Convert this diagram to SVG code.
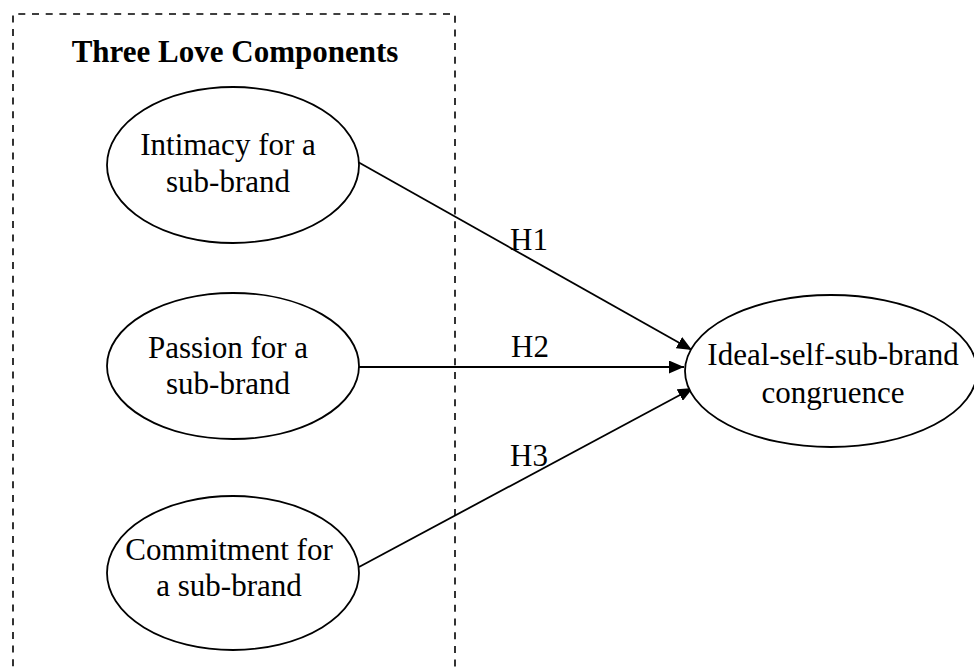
<svg xmlns="http://www.w3.org/2000/svg" width="974" height="670" viewBox="0 0 974 670">
  <style>
    .node { fill: #fff; stroke: #000; stroke-width: 1.8; }
    .lbl { font-family: "Liberation Serif", "Times New Roman", serif; font-size: 31px; fill: #000; text-anchor: middle; }
    .title { font-weight: bold; }
    .edge { stroke: #000; stroke-width: 1.8; fill: none; marker-end: url(#arrow); }
    .group-box { fill: none; stroke: #000; stroke-width: 1.6; stroke-dasharray: 7 6.7; }
  </style>
  <defs>
    <marker id="arrow" markerUnits="userSpaceOnUse" markerWidth="15" markerHeight="13" viewBox="0 0 15 13" refX="15" refY="6.5" orient="auto">
      <path d="M0,0 L15,6.5 L0,13 Z" fill="#000"/>
    </marker>
  </defs>

  <rect width="974" height="670" fill="#fff"/>

  <!-- dashed grouping frame (open at the bottom) -->
  <g id="love-components">
    <path class="group-box" d="M13,680 L13,14 L455,14 L455,680"/>
    <text class="lbl title" x="235" y="62">Three Love Components</text>
  </g>

  <g id="connectors">
    <line class="edge" x1="358" y1="162" x2="692" y2="350"/>
    <line class="edge" x1="359" y1="367" x2="684" y2="367"/>
    <line class="edge" x1="359" y1="567" x2="693" y2="388"/>
    <text class="lbl" x="529" y="250">H1</text>
    <text class="lbl" x="530" y="357">H2</text>
    <text class="lbl" x="529" y="466">H3</text>
  </g>

  <g id="intimacy">
    <ellipse class="node" cx="233" cy="165" rx="126" ry="78"/>
    <text class="lbl" x="228" y="155">Intimacy for a</text>
    <text class="lbl" x="228" y="192">sub-brand</text>
  </g>

  <g id="passion">
    <ellipse class="node" cx="233" cy="366" rx="126" ry="73"/>
    <text class="lbl" x="228" y="358">Passion for a</text>
    <text class="lbl" x="228" y="394">sub-brand</text>
  </g>

  <g id="commitment">
    <ellipse class="node" cx="233" cy="573" rx="126" ry="77"/>
    <text class="lbl" x="229" y="560">Commitment for</text>
    <text class="lbl" x="229" y="596">a sub-brand</text>
  </g>

  <g id="congruence">
    <ellipse class="node" cx="831" cy="371" rx="146" ry="76"/>
    <text class="lbl" x="833" y="365">Ideal-self-sub-brand</text>
    <text class="lbl" x="833" y="403">congruence</text>
  </g>
</svg>
